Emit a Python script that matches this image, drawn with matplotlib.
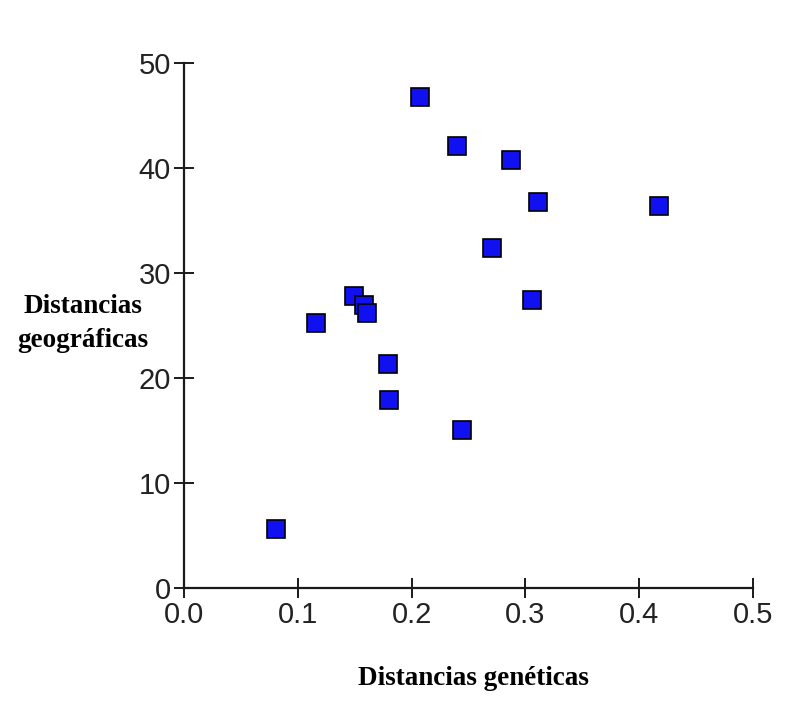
import matplotlib
matplotlib.use('Agg')
import matplotlib.pyplot as plt

# --- Datos ---
dist_geneticas = [0.207, 0.240, 0.287, 0.311, 0.417, 0.271, 0.306,
                  0.149, 0.158, 0.161, 0.116, 0.179, 0.180, 0.244, 0.081]
dist_geograficas = [46.7, 42.1, 40.7, 36.7, 36.4, 32.4, 27.4,
                    27.8, 26.9, 26.2, 25.2, 21.3, 17.9, 15.0, 5.6]

x_ticks = [0.0, 0.1, 0.2, 0.3, 0.4, 0.5]
x_tick_labels = ['0.0', '0.1', '0.2', '0.3', '0.4', '0.5']
y_ticks = [0, 10, 20, 30, 40, 50]
y_tick_labels = ['0', '10', '20', '30', '40', '50']

tick_font = ['Liberation Sans', 'DejaVu Sans']
label_font = ['Liberation Serif', 'DejaVu Serif']

fig = plt.figure(figsize=(8.12, 7.06), dpi=100)
ax = fig.add_axes([184 / 812, 1 - 588 / 706, (753 - 184) / 812, (588 - 62.7) / 706])

ax.plot(dist_geneticas, dist_geograficas, linestyle='none', marker='s',
        markersize=13.5, markerfacecolor='#1010f0', markeredgecolor='black',
        markeredgewidth=1.2, clip_on=False, zorder=3)

ax.set_xlim(0, 0.5)
ax.set_ylim(0, 50)

for s in ['top', 'right']:
    ax.spines[s].set_visible(False)
for s in ['left', 'bottom']:
    ax.spines[s].set_linewidth(1.6)
    ax.spines[s].set_color('#1a1a1a')

ax.set_xticks(x_ticks)
ax.set_xticklabels(x_tick_labels, family=tick_font, fontsize=21, color='#222222')
ax.set_yticks(y_ticks)
ax.set_yticklabels(y_tick_labels, family=tick_font, fontsize=21, color='#222222')
ax.tick_params(axis='both', direction='inout', length=15, width=1.4,
               color='#1a1a1a', pad=2)

# etiquetas de los ejes (colocadas por línea base)
fig.text(83 / 812, 1 - 313 / 706, 'Distancias', ha='center', va='baseline',
         family=label_font, fontweight='bold', fontsize=19.5)
fig.text(83 / 812, 1 - 347 / 706, 'geográficas', ha='center', va='baseline',
         family=label_font, fontweight='bold', fontsize=19.5)
fig.text(473 / 812, 1 - 685 / 706, 'Distancias genéticas', ha='center', va='baseline',
         family=label_font, fontweight='bold', fontsize=19.5)

fig.savefig('out.png', dpi=100)
